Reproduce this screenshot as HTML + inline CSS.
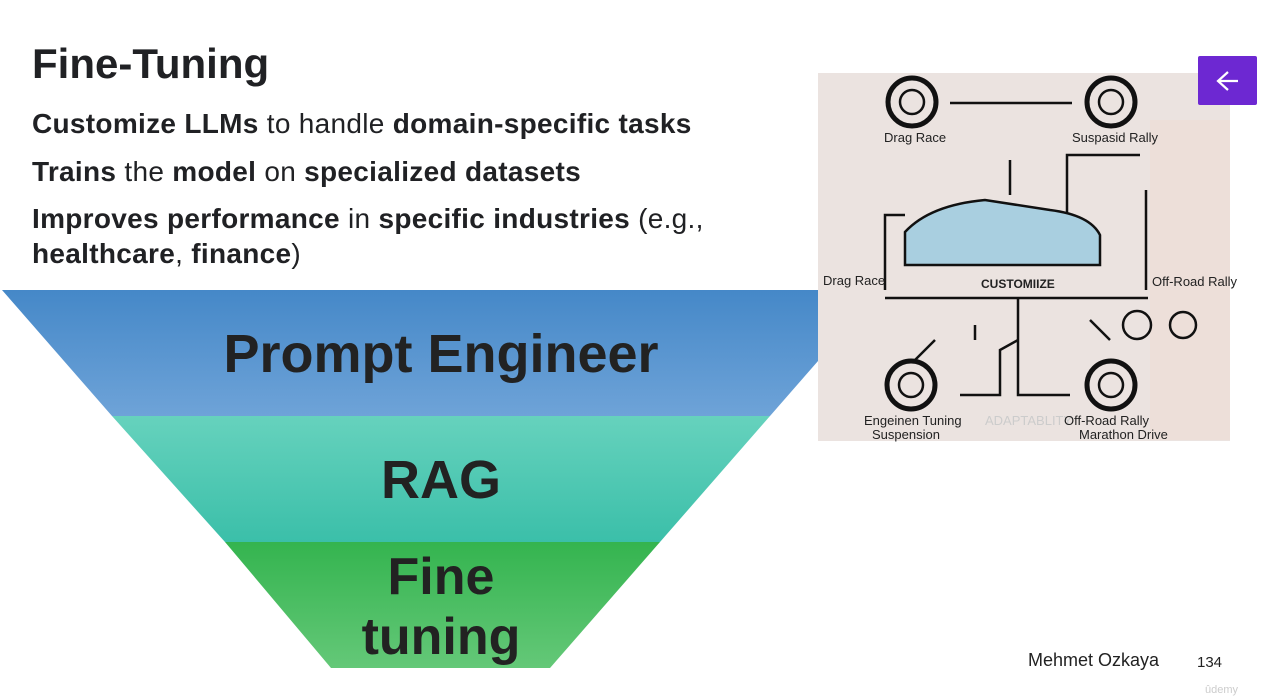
<!DOCTYPE html>
<html><head><meta charset="utf-8"><style>
html,body{margin:0;padding:0;background:#fff;width:1261px;height:697px;overflow:hidden;position:relative;font-family:"Liberation Sans",Arial,sans-serif;color:#1f1f1f}
.t{position:absolute;left:32px;top:40px;font-size:42px;font-weight:bold;color:#202124}
.b{position:absolute;left:32px;font-size:28px;letter-spacing:0.3px;color:#202124;white-space:nowrap}
.b b{font-weight:bold}
</style></head><body>
<div class="t">Fine-Tuning</div>
<div class="b" style="top:108px"><b>Customize LLMs</b> to handle <b>domain-specific tasks</b></div>
<div class="b" style="top:156px"><b>Trains</b> the <b>model</b> on <b>specialized datasets</b></div>
<div class="b" style="top:203px"><b>Improves performance</b> in <b>specific industries</b> (e.g.,</div>
<div class="b" style="top:238px"><b>healthcare</b>, <b>finance</b>)</div>

<svg width="1261" height="697" style="position:absolute;left:0;top:0">
<defs>
<linearGradient id="g1" x1="0" y1="0" x2="0" y2="1"><stop offset="0" stop-color="#4588c8"/><stop offset="1" stop-color="#6ea3d8"/></linearGradient>
<linearGradient id="g2" x1="0" y1="0" x2="0" y2="1"><stop offset="0" stop-color="#66d2bd"/><stop offset="1" stop-color="#3bbfa9"/></linearGradient>
<linearGradient id="g3" x1="0" y1="0" x2="0" y2="1"><stop offset="0" stop-color="#34b44f"/><stop offset="1" stop-color="#64c878"/></linearGradient>
</defs>
<polygon points="2,290 880,290 770,416 112,416" fill="url(#g1)"/>
<polygon points="112,416 770,416 660,542 225,542" fill="url(#g2)"/>
<polygon points="225,542 660,542 550,668 331,668" fill="url(#g3)"/>
<g font-family="Liberation Sans,Arial,sans-serif" font-weight="bold" fill="#222" text-anchor="middle">
<text x="441" y="372" font-size="54">Prompt Engineer</text>
<text x="441" y="498" font-size="54">RAG</text>
<text x="441" y="594" font-size="52">Fine</text>
<text x="441" y="654" font-size="52">tuning</text>
</g>
<rect x="818" y="73" width="412" height="368" fill="#ebe3e0"/>
<rect x="1150" y="120" width="80" height="320" fill="#efdcd4" opacity=".6"/>
<g stroke="#111" fill="none" stroke-width="2.5">
<circle cx="912" cy="102" r="24" stroke-width="5"/><circle cx="912" cy="102" r="12"/>
<circle cx="1111" cy="102" r="24" stroke-width="5"/><circle cx="1111" cy="102" r="12"/>
<circle cx="911" cy="385" r="24" stroke-width="5"/><circle cx="911" cy="385" r="12"/>
<circle cx="1111" cy="385" r="24" stroke-width="5"/><circle cx="1111" cy="385" r="12"/>
<line x1="950" y1="103" x2="1072" y2="103"/>
<line x1="1010" y1="160" x2="1010" y2="195"/>
<path d="M885,290 V215 H905 M1067,215 V155 H1140 M1146,190 V290 M885,298 H1148 M1018,298 V340 L1000,350 V395 H960 M1018,340 V395 H1070"/>
<path d="M905,232 Q930,205 985,200 L1050,210 Q1090,215 1100,235 L1100,265 L905,265 Z" fill="#a9cfe0"/>
<line x1="935" y1="340" x2="915" y2="360"/><line x1="975" y1="325" x2="975" y2="340"/>
<line x1="1090" y1="320" x2="1110" y2="340"/>
<circle cx="1137" cy="325" r="14"/><circle cx="1183" cy="325" r="13"/>
</g>
<g font-family="Liberation Sans,Arial,sans-serif" font-size="13" fill="#222">
<text x="884" y="142">Drag Race</text><text x="1072" y="142">Suspasid Rally</text>
<text x="823" y="285">Drag Race</text><text x="1152" y="286">Off-Road Rally</text>
<text x="981" y="288" font-weight="bold" font-size="12">CUSTOMIIZE</text>
<text x="864" y="425">Engeinen Tuning</text><text x="872" y="439">Suspension</text>
<text x="985" y="425" fill="#ccc">ADAPTABLITY</text>
<text x="1064" y="425">Off-Road Rally</text><text x="1079" y="439">Marathon Drive</text>
</g>
<rect x="1198" y="56" width="59" height="49" rx="2" fill="#6d28d2"/>
<path d="M1218,81 H1238 M1228,72 L1218,81 L1228,90" stroke="#fff" stroke-width="2.2" fill="none"/>
<text x="1028" y="666" font-family="Liberation Sans,Arial,sans-serif" font-size="18" fill="#222">Mehmet Ozkaya</text>
<text x="1197" y="667" font-family="Liberation Sans,Arial,sans-serif" font-size="15" fill="#222">134</text>
<text x="1205" y="693" font-family="Liberation Sans,Arial,sans-serif" font-size="11" fill="#ccc">ûdemy</text>
</svg>
</body></html>
